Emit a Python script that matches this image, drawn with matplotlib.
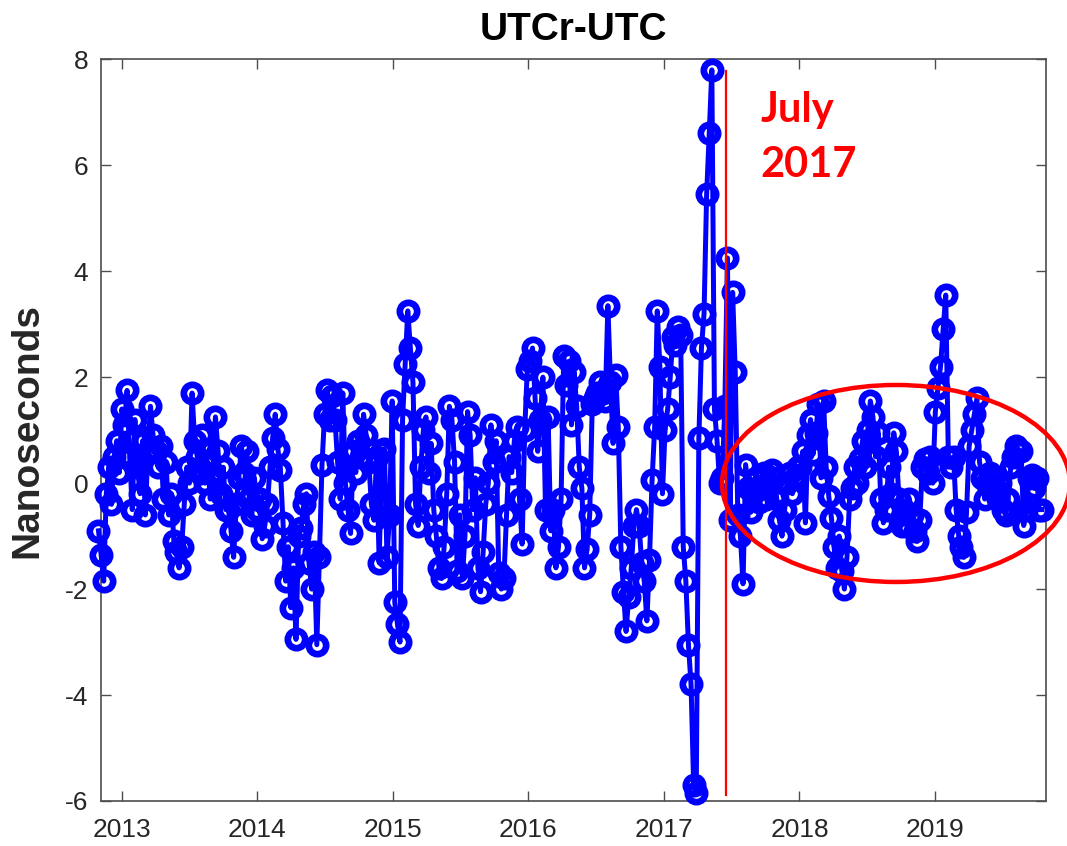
import matplotlib
matplotlib.use("Agg")
import matplotlib.pyplot as plt
from matplotlib.patches import Ellipse
import pandas as pd

plt.rcParams['axes.unicode_minus'] = False
plt.rcParams['font.family'] = ['Liberation Sans', 'DejaVu Sans']

# ---- data (UTCr-UTC, ns), weekly values ----
start_date = "2012-10-31"
seg_2012_2013 = [-0.9, -1.35, -1.85, -0.2, 0.3, -0.4, 0.5, 0.8, 0.2, 1.4,
                 1.1, 1.75, 0.5, -0.5, 1.2, 0.3, -0.2, 0.8, -0.6, 0.6,
                 1.45, 0.9, 0.6, 0.3, 0.7, -0.3, 0.4, -0.6, -0.2, -1.1,
                 -1.3, -1.6, -1.2, -0.4, 0.3, 0.0, 1.7, 0.8, 0.5, 0.2,
                 0.9, 0.0, 0.4, -0.3, 0.2, 1.25, 0.6, -0.2, 0.3, -0.5]
seg_2014 = [-0.5, -0.9, -1.4, -0.4, 0.1, 0.7, 0.2, 0.6, -0.3, -0.6,
            0.1, -0.5, -0.3, -1.05, -0.8, -0.4, 0.3, 0.85, 1.3, 0.65,
            0.25, -0.75, -1.85, -1.2, -2.35, -1.6, -2.95, -1.0, -0.85, -0.4,
            -0.2, -1.5, -2.0, -1.3, -3.05, -1.4, 0.35, 1.3, 1.75, 1.2,
            1.65, 1.2, 0.4, -0.3, 1.7, 0.0, -0.5, -0.95, 0.6, 0.2]
seg_2015 = [0.8, 0.5, 1.3, 0.9, 0.4, -0.4, -0.7, 0.5, -1.5, 0.6,
            0.65, -1.4, -0.6, 1.55, -2.25, -2.65, -3.0, 1.2, 2.25, 3.25,
            2.55, 1.9, -0.4, -0.8, 0.3, 1.0, 1.25, 0.2, 0.75, -0.5,
            -1.0, -1.6, -1.8, -1.2, -0.2, 1.45, 1.2, 0.4, -1.65, -0.6,
            -1.8, -1.0, 1.35, 0.9, -0.5, 0.1, -1.6, -2.05, -1.3, -0.4]
seg_2016 = [0.0, 1.1, 0.4, 0.8, -1.7, -2.0, -1.8, -0.6, 0.5, 0.2,
            0.8, 1.05, -0.3, -1.15, 1.0, 2.15, 2.3, 2.55, 1.6, 0.6, 1.2, 2.0, -0.5,
            1.25, -0.9, -0.5, -1.6, -1.2, -0.3, 2.4, 1.85, 2.3, 1.1,
            2.1, 1.45, 0.3, -0.1, -1.6, -1.25, -0.6, 1.5, 1.6, 1.7, 1.9,
            1.7, 1.55, 3.35, 1.9, 0.75, 2.05, 1.05, -1.2, -2.05, -2.8]
seg_2017 = [-2.15, -1.6, -0.8, -0.5, -0.8, -1.5, -1.85, -2.6, -1.45,
            0.05, 1.05, 3.25, 2.2, -0.2, 1.0, 1.4, 2.0, 2.75,
            2.6, 2.95, 2.8, -1.2, -1.85, -3.05, -3.8, -5.7, -5.85,
            0.85, 2.55, 3.2, 5.45, 6.6, 7.8, 1.4, 0.8, 0.0,
            0.1, 1.45, 4.25, -0.7, 3.6, 2.1, -0.6, -1.0, -1.9, 0.35]
seg_2018 = [-0.1, -0.55, -0.2, 0.1, -0.35, -0.05, 0.2, -0.3, 0.0, 0.25,
            0.1, -0.3, -0.7, -1.0, -0.5, 0.0, 0.2, -0.2, 0.1, 0.3,
            0.3, 0.6, -0.75, 0.9, 1.2, 0.55, 0.95, 1.5, 0.1, 1.55,
            0.3, -0.25, -0.65, -1.2, -1.6, -1.0, -1.65, -2.0, -1.4, -0.3,
            -0.1, 0.3, 0.0, 0.45, 0.8, 0.3, 1.0, 1.55, 1.25, 0.5]
seg_2019 = [0.95, -0.3, -0.75, -0.5, 0.3, -0.2, 0.95, 0.6, -0.3, -0.8,
            -0.5, -0.8, -0.3, -0.6, -0.9, -1.1, -0.7, 0.3, 0.45, 0.2,
            0.5, 0.0, 1.35, 1.8, 2.2, 2.9, 3.55, 0.5, 0.3, 0.5,
            -0.5, -1.0, -1.2, -1.4, -0.55, 0.7, 1.0, 1.3, 1.6, 0.4,
            0.1, -0.3, 0.0, 0.2, 0.1, -0.1, -0.3, 0.0, -0.5, -0.6,
            -0.3, 0.3, 0.5, 0.7, 0.6, 0.6, -0.8, -0.5, 0.1, 0.15,
            -0.1, 0.1, -0.5, -0.5]

values = seg_2012_2013 + seg_2014 + seg_2015 + seg_2016 + seg_2017 + seg_2018 + seg_2019
dates = pd.date_range(start_date, periods=len(values), freq="7D")

year_ticks = ["2013", "2014", "2015", "2016", "2017", "2018", "2019"]
y_ticks = [-6, -4, -2, 0, 2, 4, 6, 8]
july_2017 = "2017-06-17"
title = "UTCr-UTC"
ylabel = "Nanoseconds"
annot_lines = ["July", "2017"]

# ---- figure ----
fig = plt.figure(figsize=(10.67, 8.46), dpi=100)
ax = fig.add_axes([0.0944, 0.0532, 0.8859, 0.8767])

ax.plot(dates, values, color=(0, 0, 1), lw=3.6, marker='o', ms=12.5,
        mfc='none', mec=(0, 0, 1), mew=4.8, clip_on=False, zorder=3)

ax.plot([pd.Timestamp(july_2017)] * 2, [7.78, -5.88], color='red', lw=1.6, zorder=4)

ax.set_xlim(pd.Timestamp("2012-11-06"), pd.Timestamp("2019-10-27"))
ax.set_ylim(-6, 8)
ax.set_xticks([pd.Timestamp(y + "-01-01") for y in year_ticks])
ax.set_xticklabels(year_ticks)
ax.set_yticks(y_ticks)
ax.set_yticklabels([str(v) for v in y_ticks])

for s in ax.spines.values():
    s.set_color('#4d4d4d')
    s.set_linewidth(1.2)
ax.tick_params(direction='in', length=7, width=1.0, color='#4d4d4d',
               labelsize=19, labelcolor='#262626', top=True, right=True)
ax.tick_params(axis='x', pad=12)
ax.tick_params(axis='y', pad=9)

ax.set_title(title, fontsize=28, fontweight='bold', pad=14)
ax.set_ylabel(ylabel, fontsize=28, fontweight='bold', color='#262626', labelpad=14)

for txt, ypos in zip(annot_lines, [0.9155, 0.8413]):
    ax.text(0.6975, ypos, txt, transform=ax.transAxes, color='red',
            fontsize=30, fontweight='bold', family=['Lato', 'DejaVu Sans'],
            va='baseline', ha='left')

ell = Ellipse((0.8413, 0.4281), 0.368, 0.2656, transform=ax.transAxes,
              fill=False, edgecolor='red', lw=3.2, clip_on=False, zorder=5)
ax.add_patch(ell)

fig.savefig("out.png", dpi=100)
